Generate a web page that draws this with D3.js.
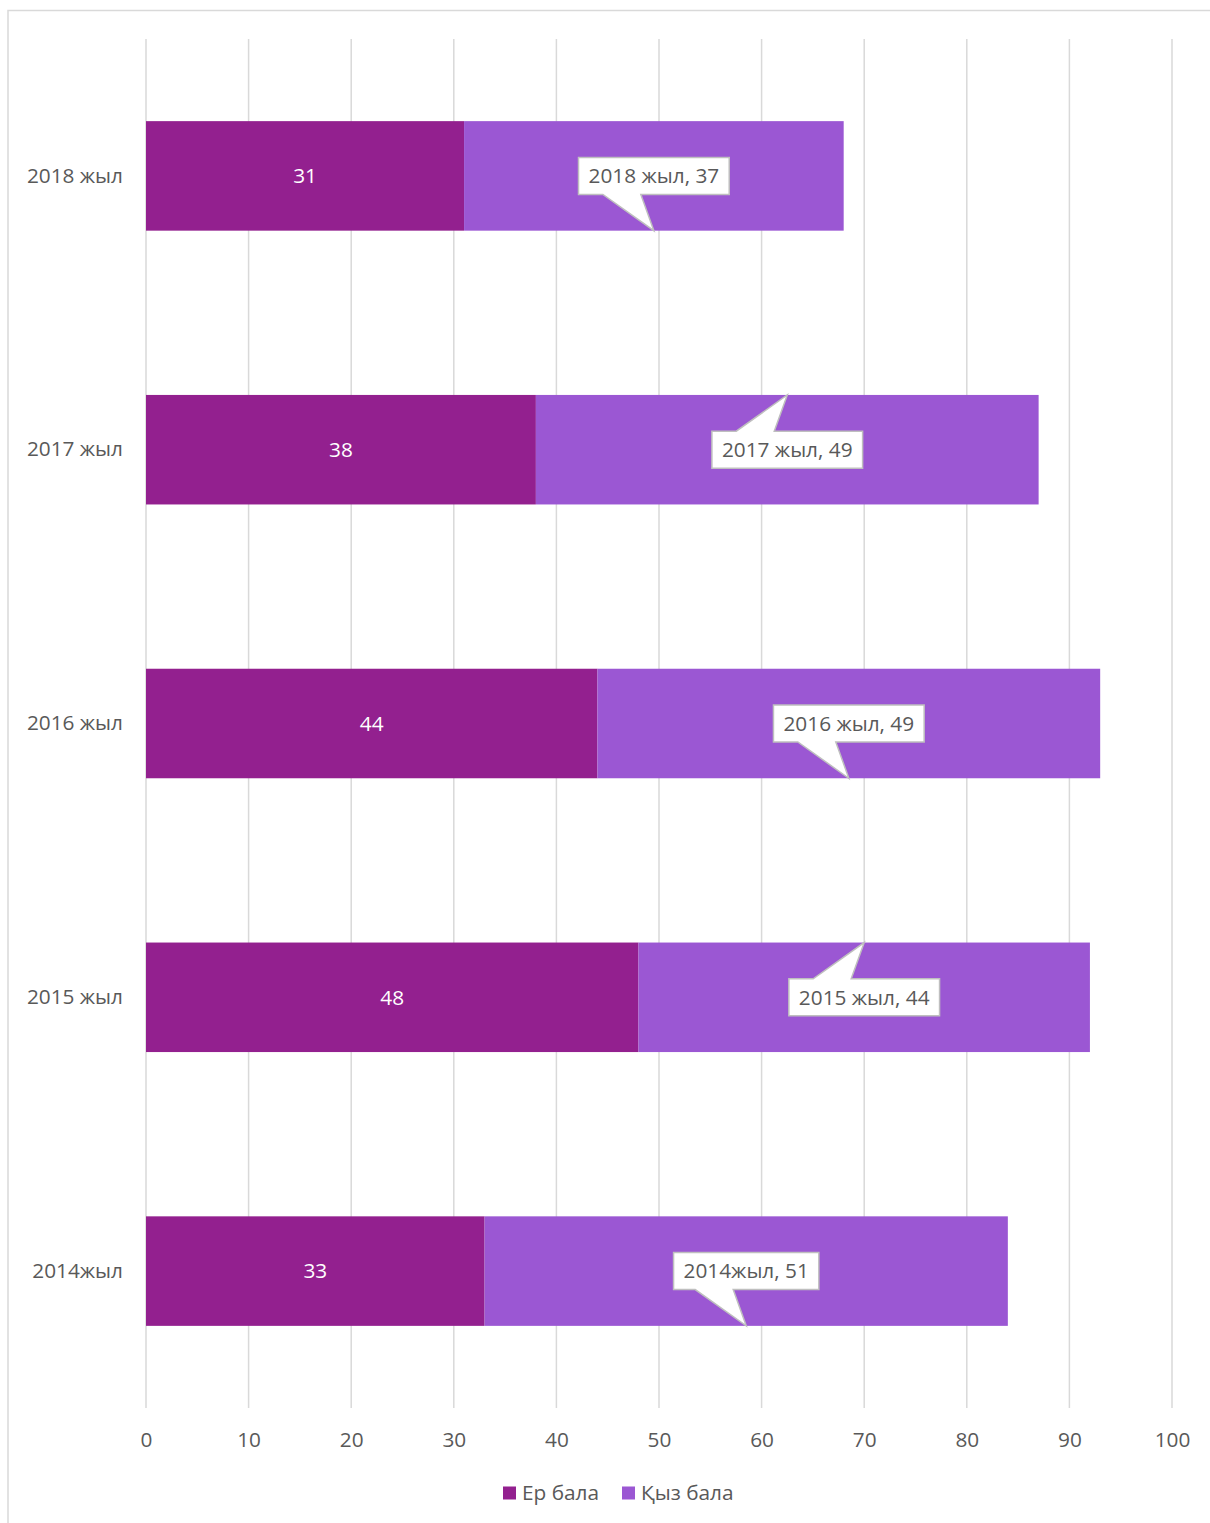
<!DOCTYPE html>
<html>
<head>
<meta charset="utf-8">
<script src="https://cdn.jsdelivr.net/npm/d3@7"></script>
<style>
  html, body { margin: 0; padding: 0; background: #fff; }
  svg { display: block; font-family: "Open Sans", "Noto Sans", sans-serif; }
</style>
</head>
<body>
<svg id="chart" width="1210" height="1523"></svg>
<script>
// Categories, top to bottom
const years = ["2018 жыл", "2017 жыл", "2016 жыл", "2015 жыл", "2014жыл"];
// Boys and girls per year
const boys  = [31, 38, 44, 48, 33];
const girls = [37, 49, 49, 44, 51];
const seriesNames = ["Ер бала", "Қыз бала"];
const seriesColors = ["#93208F", "#9B57D3"];
const xTicks = [0, 10, 20, 30, 40, 50, 60, 70, 80, 90, 100];
// Which side of the bar each callout's pointer goes to
const calloutSide = ["bottom", "top", "bottom", "top", "bottom"];

const FS = 20.8;
const svg = d3.select("#chart");
const W = 1210, H = 1523;

// chart frame
svg.append("rect")
  .attr("x", 8).attr("y", 10.5)
  .attr("width", W + 10).attr("height", H + 10)
  .attr("fill", "#fff").attr("stroke", "#d9d9d9").attr("stroke-width", 1.5);

const x = d3.scaleLinear().domain([0, 100]).range([146, 1172]);
const y = d3.scaleBand().domain(years).range([39, 1408]).paddingInner(0.6).paddingOuter(0.3);

// vertical gridlines
svg.append("g").selectAll("line").data(xTicks).join("line")
  .attr("x1", d => x(d)).attr("x2", d => x(d))
  .attr("y1", 39).attr("y2", 1408)
  .attr("stroke", "#d9d9d9").attr("stroke-width", 1.5);

// x tick labels
const xAxis = d3.axisBottom(x).tickValues(xTicks).tickSize(0).tickPadding(0);
const xg = svg.append("g").attr("transform", "translate(0,1440)").call(xAxis);
xg.select(".domain").remove();
xg.selectAll("text")
  .attr("dy", "0.35em").attr("y", 0)
  .attr("font-size", FS).attr("fill", "#595959")
  .attr("font-family", "'Open Sans', sans-serif");

// y labels
const yAxis = d3.axisLeft(y).tickSize(0).tickPadding(0);
const yg = svg.append("g").attr("transform", "translate(123,0)").call(yAxis);
yg.select(".domain").remove();
yg.selectAll("text")
  .attr("font-size", FS).attr("fill", "#595959")
  .attr("font-family", "'Open Sans', sans-serif");

// stacked data
const rows = years.map((yr, i) => ({ year: yr, boys: boys[i], girls: girls[i], i }));
const stack = d3.stack().keys(["boys", "girls"])(rows);

const gBars = svg.append("g");
stack.forEach((layer, k) => {
  gBars.append("g").selectAll("rect").data(layer).join("rect")
    .attr("x", d => x(d[0]))
    .attr("width", d => x(d[1]) - x(d[0]))
    .attr("y", d => y(d.data.year))
    .attr("height", y.bandwidth())
    .attr("fill", seriesColors[k]);
});

// white value labels on the boys segment
svg.append("g").selectAll("text").data(stack[0]).join("text")
  .attr("x", d => x((d[0] + d[1]) / 2))
  .attr("y", d => y(d.data.year) + y.bandwidth() / 2)
  .attr("dy", "0.35em")
  .attr("text-anchor", "middle")
  .attr("font-size", FS).attr("fill", "#fff")
  .text(d => d.data.boys);

// callout labels on the girls segment
const callouts = svg.append("g");
stack[1].forEach((d, i) => {
  const cx = x((d[0] + d[1]) / 2);
  const cy = y(d.data.year) + y.bandwidth() / 2;
  const label = `${d.data.year}, ${d.data.girls}`;
  const g = callouts.append("g");
  const t = g.append("text")
    .attr("x", cx).attr("y", cy).attr("dy", "0.35em")
    .attr("text-anchor", "middle")
    .attr("font-size", FS).attr("fill", "#595959")
    .text(label);
  const tw = t.node().getComputedTextLength();
  const bw = tw + 20, bh = 37;
  const left = cx - bw / 2, right = cx + bw / 2;
  const top = cy - bh / 2, bottom = cy + bh / 2;
  const b1 = cx - 51, b2 = cx - 13;
  let path;
  if (calloutSide[i] === "bottom") {
    const tipY = y(d.data.year) + y.bandwidth();
    path = `M${left},${top}H${right}V${bottom}H${b2}L${cx},${tipY}L${b1},${bottom}H${left}Z`;
  } else {
    const tipY = y(d.data.year);
    path = `M${left},${top}H${b1}L${cx},${tipY}L${b2},${top}H${right}V${bottom}H${left}Z`;
  }
  g.insert("path", "text")
    .attr("d", path)
    .attr("fill", "#fff").attr("stroke", "#bfbfbf").attr("stroke-width", 1.5);
});

// legend
const legend = svg.append("g").attr("transform", "translate(503,1493)");
const lx = [0, 119];
seriesNames.forEach((name, k) => {
  const item = legend.append("g").attr("transform", `translate(${lx[k]},0)`);
  item.append("rect").attr("x", 0).attr("y", -6.5).attr("width", 13).attr("height", 13)
    .attr("fill", seriesColors[k]);
  item.append("text").attr("x", 19).attr("y", 0).attr("dy", "0.35em")
    .attr("font-size", FS).attr("fill", "#595959").text(name);
});
</script>
</body>
</html>
